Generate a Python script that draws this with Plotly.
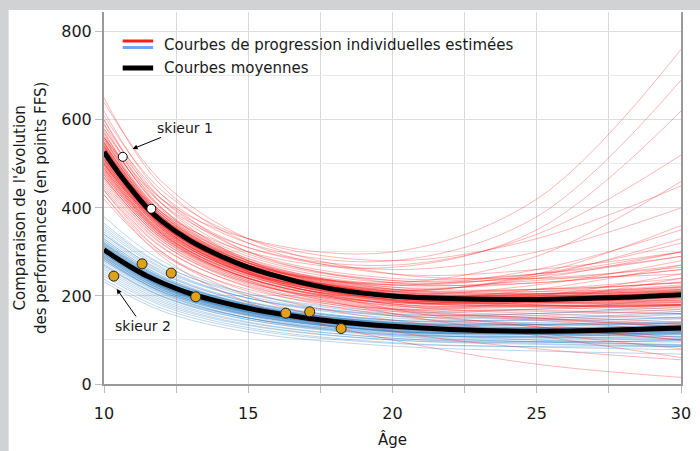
import plotly.graph_objects as go

# Ages at which each individual progression curve is sampled
knot_ages = [10, 12, 15, 20, 25, 30]

# Individual estimated curves, group 1 (red)
red_curves = [
    [650, 450, 320, 250, 260, 300], [620, 430, 300, 230, 230, 260],
    [600, 420, 300, 240, 250, 290], [590, 400, 280, 220, 215, 230],
    [580, 410, 295, 235, 240, 265], [575, 395, 280, 215, 205, 210],
    [570, 400, 290, 235, 250, 300], [565, 390, 275, 210, 200, 205],
    [560, 385, 275, 215, 215, 230], [555, 390, 285, 230, 245, 290],
    [550, 380, 270, 205, 195, 200], [548, 385, 280, 225, 235, 270],
    [545, 375, 265, 200, 190, 190], [540, 380, 275, 220, 230, 260],
    [538, 370, 262, 195, 180, 175], [535, 378, 275, 225, 250, 320],
    [532, 372, 265, 200, 195, 205], [530, 365, 258, 190, 175, 165],
    [528, 370, 268, 210, 215, 240], [525, 368, 262, 200, 200, 215],
    [522, 362, 255, 190, 180, 180], [520, 368, 270, 225, 260, 350],
    [518, 358, 250, 180, 160, 150], [515, 362, 260, 200, 205, 225],
    [512, 355, 252, 188, 178, 178], [510, 360, 262, 215, 240, 300],
    [508, 352, 248, 182, 168, 160], [505, 356, 255, 195, 195, 205],
    [502, 350, 250, 190, 190, 200], [500, 352, 258, 212, 245, 330],
    [498, 345, 242, 175, 155, 140], [495, 348, 250, 192, 192, 205],
    [492, 342, 240, 178, 165, 160], [490, 346, 252, 205, 225, 280],
    [488, 340, 238, 172, 150, 130], [485, 342, 245, 188, 185, 195],
    [482, 338, 240, 182, 178, 185], [480, 340, 250, 210, 250, 360],
    [478, 335, 235, 170, 150, 135], [475, 336, 240, 185, 190, 210],
    [470, 330, 232, 168, 148, 130], [468, 332, 240, 195, 215, 270],
    [465, 325, 228, 165, 145, 120], [460, 325, 232, 178, 175, 180],
    [455, 320, 225, 160, 135, 105], [450, 318, 230, 185, 200, 250],
    [445, 312, 220, 155, 130, 100], [440, 310, 222, 170, 170, 180],
    [430, 300, 210, 145, 115, 80], [420, 295, 215, 170, 190, 240],
    [610, 440, 330, 280, 330, 450], [560, 410, 310, 270, 340, 520],
    [520, 390, 300, 265, 350, 620], [500, 360, 270, 230, 290, 460],
    [470, 330, 235, 160, 110, 60], [440, 300, 200, 120, 80, 55],
    [580, 420, 310, 260, 300, 400], [540, 370, 255, 170, 130, 100],
    [640, 460, 330, 250, 240, 250], [600, 410, 280, 200, 180, 170],
    [560, 420, 330, 300, 420, 760], [590, 430, 320, 280, 380, 690],
    [430, 290, 185, 100, 45, 15],
    [530, 372, 266, 202, 196, 208], [520, 366, 262, 198, 190, 198],
    [540, 378, 270, 205, 198, 210], [510, 360, 258, 196, 190, 196],
    [545, 382, 272, 206, 196, 202], [500, 352, 252, 192, 188, 196],
    [535, 374, 266, 200, 190, 192], [515, 362, 260, 200, 198, 212],
    [525, 368, 264, 204, 204, 222], [505, 356, 254, 192, 184, 186],
    [550, 384, 274, 208, 200, 206], [495, 348, 250, 192, 190, 200],
    [560, 390, 278, 212, 206, 215], [490, 345, 246, 186, 178, 180],
    [528, 369, 263, 196, 184, 182], [518, 364, 262, 202, 202, 218],
    [538, 376, 268, 204, 200, 214], [508, 358, 256, 196, 192, 200],
    [548, 380, 270, 202, 190, 188], [512, 360, 258, 198, 195, 206],
    [522, 365, 260, 196, 186, 186], [532, 374, 268, 206, 204, 220],
    [502, 354, 254, 196, 196, 210], [542, 378, 268, 200, 186, 180],
    [556, 386, 276, 210, 204, 212], [485, 342, 245, 188, 184, 190],
    [570, 398, 284, 216, 210, 220], [475, 335, 240, 182, 176, 178],
    [526, 367, 262, 198, 192, 200], [516, 362, 262, 204, 210, 232],
]

# Individual estimated curves, group 2 (blue)
blue_curves = [
    [380, 280, 205, 160, 160, 175], [365, 272, 200, 155, 150, 160],
    [355, 265, 195, 150, 145, 150], [350, 262, 195, 155, 155, 170],
    [345, 255, 188, 145, 138, 140], [340, 252, 186, 142, 135, 138],
    [335, 250, 186, 145, 145, 158], [330, 245, 180, 138, 128, 128],
    [326, 242, 180, 140, 135, 142], [322, 240, 178, 138, 132, 138],
    [318, 236, 174, 133, 122, 120], [315, 235, 176, 138, 135, 148],
    [312, 232, 172, 132, 122, 125], [310, 230, 170, 130, 120, 122],
    [307, 230, 172, 134, 128, 135], [305, 226, 166, 125, 112, 108],
    [302, 226, 168, 130, 124, 130], [300, 222, 164, 124, 113, 112],
    [298, 222, 165, 128, 122, 128], [295, 218, 160, 120, 108, 104],
    [292, 218, 162, 126, 122, 132], [290, 214, 157, 118, 106, 102],
    [288, 214, 158, 121, 114, 118], [285, 210, 154, 115, 104, 100],
    [282, 210, 156, 120, 115, 122], [280, 206, 150, 112, 100, 95],
    [276, 204, 150, 114, 106, 108], [272, 200, 146, 108, 96, 90],
    [268, 198, 146, 112, 108, 115], [264, 194, 141, 104, 92, 86],
    [260, 190, 139, 104, 96, 98], [255, 186, 135, 100, 90, 85],
    [250, 182, 133, 100, 95, 100], [245, 178, 128, 94, 84, 78],
    [238, 172, 124, 92, 85, 85], [232, 166, 118, 86, 75, 68],
    [360, 270, 205, 165, 170, 195], [340, 258, 195, 158, 160, 180],
    [320, 240, 182, 145, 148, 165], [300, 222, 163, 118, 100, 88],
    [270, 200, 150, 118, 118, 130], [310, 235, 178, 140, 140, 152],
    [285, 208, 150, 110, 96, 88], [330, 246, 182, 140, 134, 138],
    [295, 220, 163, 125, 118, 122],
    [305, 228, 170, 130, 120, 126], [300, 224, 167, 128, 118, 122],
    [310, 232, 173, 133, 123, 128], [295, 221, 164, 126, 117, 120],
    [315, 236, 176, 135, 125, 130], [290, 217, 161, 123, 114, 117],
    [320, 239, 178, 136, 126, 130], [285, 213, 158, 120, 111, 112],
    [308, 230, 171, 130, 118, 120], [298, 223, 166, 128, 121, 127],
    [302, 226, 169, 131, 124, 132], [312, 233, 172, 130, 116, 114],
    [292, 219, 163, 126, 120, 126], [318, 237, 175, 133, 122, 124],
    [288, 215, 160, 122, 113, 115], [325, 242, 180, 138, 128, 132],
    [280, 210, 156, 120, 113, 118], [306, 229, 170, 129, 117, 116],
    [296, 222, 166, 129, 124, 132], [314, 234, 174, 134, 126, 134],
]

# Mean curves
mean_ages = [10, 10.5, 11, 11.5, 12, 13, 14, 15, 16, 17, 18, 20, 22, 25, 28, 30]
mean_red = [527, 480, 438, 400, 370, 325, 292, 265, 245, 228, 215, 200, 194, 192, 197, 203]
mean_blue = [305, 283, 263, 245, 230, 205, 187, 172, 160, 150, 142, 131, 124, 120, 123, 127]

# Observed results
skier1_age = [10.65, 11.64]
skier1_pts = [516, 398]
skier2_age = [10.34, 11.32, 12.33, 13.18, 16.3, 17.13, 18.22]
skier2_pts = [245, 273, 252, 198, 161, 164, 126]

FONT = "DejaVu Sans"
TXT = "#1a1a1a"
fig = go.Figure()

for c in blue_curves:
    fig.add_trace(go.Scatter(x=knot_ages, y=c, mode="lines",
                             line=dict(color="rgba(35,120,190,0.3)", width=1, shape="spline", smoothing=1.0),
                             hoverinfo="skip", showlegend=False))
for c in red_curves:
    fig.add_trace(go.Scatter(x=knot_ages, y=c, mode="lines",
                             line=dict(color="rgba(250,15,15,0.3)", width=1, shape="spline", smoothing=1.0),
                             hoverinfo="skip", showlegend=False))

for m in (mean_red, mean_blue):
    fig.add_trace(go.Scatter(x=mean_ages, y=m, mode="lines",
                             line=dict(color="black", width=5, shape="spline"),
                             hoverinfo="skip", showlegend=False))

fig.add_trace(go.Scatter(x=skier1_age, y=skier1_pts, mode="markers",
                         marker=dict(size=9, color="white", line=dict(color="black", width=1)),
                         showlegend=False))
fig.add_trace(go.Scatter(x=skier2_age, y=skier2_pts, mode="markers",
                         marker=dict(size=10, color="#e0a21a", line=dict(color="#222", width=1)),
                         showlegend=False))

# pixel -> paper coordinate helpers (plot area spans x 104..691, y 12..384)
px_x = lambda p: (p - 104) / 587
px_y = lambda p: (384 - p) / 372

shapes = [
    # white panel over the grey page
    dict(type="rect", xref="paper", yref="paper", x0=px_x(7), x1=px_x(720), y0=px_y(470), y1=px_y(10),
         fillcolor="white", line_width=0, layer="below"),
    # legend swatches
    dict(type="line", xref="paper", yref="paper", x0=px_x(123), x1=px_x(154), y0=px_y(41), y1=px_y(41),
         line=dict(color="#ff1a1a", width=3)),
    dict(type="line", xref="paper", yref="paper", x0=px_x(123), x1=px_x(154), y0=px_y(47.5), y1=px_y(47.5),
         line=dict(color="#6aa8f0", width=3)),
    dict(type="line", xref="paper", yref="paper", x0=px_x(123), x1=px_x(154), y0=px_y(68), y1=px_y(68),
         line=dict(color="black", width=5)),
]

annotations = [
    dict(xref="paper", yref="paper", x=px_x(163), y=px_y(45), text="Courbes de progression individuelles estimées",
         showarrow=False, xanchor="left", yanchor="middle", font=dict(size=15, color=TXT, family=FONT)),
    dict(xref="paper", yref="paper", x=px_x(163), y=px_y(68), text="Courbes moyennes",
         showarrow=False, xanchor="left", yanchor="middle", font=dict(size=15, color=TXT, family=FONT)),
    dict(x=10.99, y=534, text="skieur 1", ax=52, ay=-21, showarrow=True, arrowhead=2, arrowsize=1,
         arrowwidth=1, arrowcolor="black", font=dict(size=14, color=TXT, family=FONT)),
    dict(x=10.44, y=216, text="skieur 2", ax=26, ay=37, showarrow=True, arrowhead=2, arrowsize=1,
         arrowwidth=1, arrowcolor="black", font=dict(size=14, color=TXT, family=FONT)),
    dict(xref="paper", yref="paper", x=0.5, y=px_y(439), text="Âge", showarrow=False,
         xanchor="center", yanchor="middle", font=dict(size=15, color=TXT, family=FONT)),
    dict(xref="paper", yref="paper", x=px_x(19), y=px_y(208), text="Comparaison de l'évolution",
         showarrow=False, textangle=-90, xanchor="center", yanchor="middle",
         font=dict(size=15, color=TXT, family=FONT)),
    dict(xref="paper", yref="paper", x=px_x(40), y=px_y(208), text="des performances (en points FFS)",
         showarrow=False, textangle=-90, xanchor="center", yanchor="middle",
         font=dict(size=15, color=TXT, family=FONT)),
]

fig.update_layout(
    width=700, height=451,
    margin=dict(l=104, r=9, t=12, b=67),
    paper_bgcolor="#d1d2d4",
    plot_bgcolor="rgba(0,0,0,0)",
    shapes=shapes,
    annotations=annotations,
    font=dict(family=FONT, size=15, color=TXT),
    xaxis=dict(range=[10, 30], dtick=5, tick0=10, showgrid=True, gridcolor="#d9d9d9", gridwidth=1,
               minor=dict(dtick=2.5, showgrid=True, gridcolor="#d9d9d9", ticks="outside", ticklen=7,
                          tickcolor="#bbbbbb"),
               showline=True, linecolor="#999999", linewidth=2, ticks="outside", ticklen=7,
               tickcolor="#bbbbbb", ticklabelstandoff=7, zeroline=False,
               tickfont=dict(size=16, family=FONT)),
    yaxis=dict(range=[0, 845], dtick=200, showgrid=True, gridcolor="#dddddd", gridwidth=1,
               minor=dict(dtick=100, showgrid=True, gridcolor="#e8e8e8"),
               showline=True, linecolor="#999999", linewidth=2, mirror=True, ticks="outside", ticklen=7,
               tickcolor="#bbbbbb", zeroline=False, tickfont=dict(size=16, family=FONT)),
)

fig.write_html("out.html")
